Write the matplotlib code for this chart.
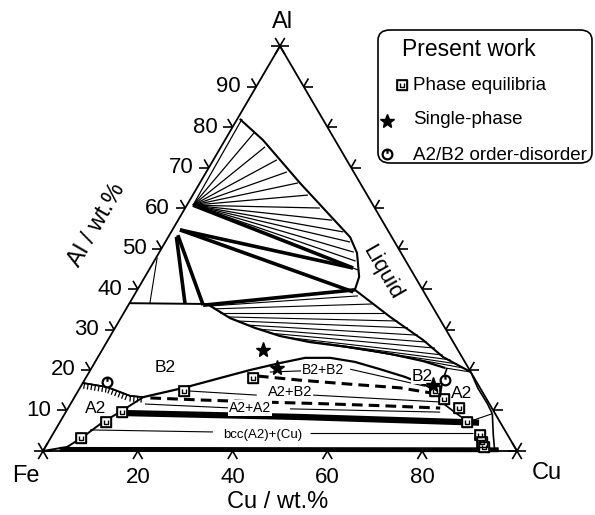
import numpy as np
import matplotlib.pyplot as plt
import matplotlib.patheffects as pe
from matplotlib.path import Path
from matplotlib.patches import FancyBboxPatch

plt.rcParams['font.family'] = ['Liberation Sans', 'DejaVu Sans']

S3 = np.sqrt(3) / 2


def tern(cu, al):
    cu = np.asarray(cu, float)
    al = np.asarray(al, float)
    return cu + al / 2, al * S3


# ---- data, all in wt.% (Cu, Al) ----
# liquidus (boundary of the liquid field)
liq_cu = [0.5, 8.0, 21.1, 38.4, 41.8, 45.2, 45.9, 56.7, 66.5, 72.8, 80.5]
liq_al = [82.0, 76.8, 66.2, 52.8, 48.9, 43.0, 39.8, 33.1, 27.4, 23.2, 19.5]

# tie-line fan from the Al-rich compound
fan_cu0, fan_al0 = 1.3, 60.7
fan_cu = [1.0, 5.3, 9.3, 13.4, 17.0, 20.7, 24.3, 28.4, 32.5, 36.3, 39.0, 41.0, 42.5, 44.1]
fan_al = [82.0, 78.8, 75.1, 71.9, 68.9, 66.2, 63.2, 60.0, 57.0, 54.1, 51.6, 49.1, 46.9, 44.7]

# thick three-phase lines
thk_cu0 = [1.3, 1.6, 1.6, 1.7, 1.8, 15.8]
thk_al0 = [60.7, 54.6, 54.6, 52.9, 53.3, 36.0]
thk_cu1 = [42.8, 42.8, 45.8, 11.7, 15.8, 45.9]
thk_al1 = [45.2, 45.2, 39.3, 36.5, 36.0, 39.8]

# B2 field upper boundary (curve A) and its top line
a_cu = [16.5, 23.1, 29.5, 35.8, 42.8, 51.3, 61.2, 69.1, 74.6]
a_al = [36.3, 32.8, 30.4, 28.4, 26.9, 25.7, 24.0, 22.2, 20.5]
top_cu = [0.0, 16.5]
top_al = [36.5, 36.3]

# B2 field lower boundary (curve B)
b_cu = [14.5, 21.9, 28.3, 33.7, 39.1, 43.8, 49.1, 54.8, 61.0, 67.2, 72.5, 75.8]
b_al = [13.3, 15.6, 18.0, 20.0, 21.7, 23.0, 23.0, 22.0, 20.2, 18.3, 16.3, 14.6]

# A2 field boundary at the Fe corner (curve C)
c_cu = [0.0, 4.6, 6.7, 9.1, 11.4, 14.5]
c_al = [0.0, 1.0, 3.5, 7.2, 9.6, 13.3]

# A2/B2 order-disorder line
od_cu = [0.0, 5.6, 11.6, 14.5]
od_al = [16.8, 15.8, 13.6, 13.3]

# dashed lines
dsh1_cu = [36.1, 45.4, 56.5, 67.5, 74.9]
dsh1_al = [18.5, 17.5, 16.5, 15.6, 14.3]
dsh2_cu = [16.1, 26.8, 39.8, 52.5, 65.5, 78.5]
dsh2_al = [13.1, 12.6, 12.1, 11.7, 11.2, 10.6]

# Cu-rich side
ra_cu = [75.0, 75.6, 76.9, 79.1, 83.2, 86.1]
ra_al = [20.5, 17.5, 13.8, 11.4, 8.9, 7.2]
rb_cu = [80.5, 84.0, 87.8, 90.2]
rb_al = [19.5, 15.5, 11.8, 9.2]
rc_cu = [90.2, 93.0, 95.3]
rc_al = [9.2, 4.0, 0.0]

# thick bands in the bcc + (Cu) field
band1_cu = [11.1, 50.0, 88.5]
band1_al = [9.4, 8.4, 7.0]
band2_cu = [3.3, 96.0]
band2_al = [0.4, 0.3]

# thin tie lines
tie_cu0 = [17.3, 18.5, 20.3, 22.5, 24.9, 27.4, 30.3, 33.3, 37.0, 41.7, 47.5, 54.3,
           74.6, 86.1, 7.3, 54.1, 15.7, 46.9, 23.6, 50.1, 38.1, 54.7, 0.2]
tie_al0 = [35.8, 35.1, 34.1, 33.1, 32.1, 31.1, 30.1, 29.1, 28.1, 27.2, 26.2, 25.2,
           20.5, 7.2, 5.2, 4.4, 11.6, 10.4, 14.8, 13.8, 19.5, 20.2, 47.8]
tie_cu1 = [47.3, 51.3, 55.1, 58.7, 61.8, 64.8, 67.5, 70.0, 72.5, 74.7, 76.6, 78.4,
           80.5, 90.2, 33.5, 88.5, 34.8, 79.0, 38.2, 77.8, 45.0, 72.6, 4.3]
tie_al1 = [38.3, 36.3, 34.1, 32.1, 30.4, 28.6, 26.9, 25.4, 23.7, 22.5, 21.5, 20.5,
           19.5, 9.2, 4.7, 4.4, 10.6, 9.6, 13.8, 12.1, 19.8, 16.0, 36.5]

# experimental points
sq_cu = [6.4, 9.7, 11.9, 22.3, 35.3, 75.3, 78.2, 82.5, 85.9, 90.2, 91.5, 92.5]
sq_al = [3.2, 7.2, 9.6, 14.8, 18.0, 14.8, 12.8, 10.6, 7.2, 4.0, 2.2, 1.0]
star_cu = [33.9, 39.2, 74.2]
star_al = [24.9, 20.5, 16.3]
circ_cu = [5.0, 76.0]
circ_al = [17.0, 17.5]

axis_ticks = [10, 20, 30, 40, 50, 60, 70, 80, 90]
cu_labels = [20, 40, 60, 80]

# ---- figure ----
fig = plt.figure(figsize=(5.95, 5.15), dpi=100)
ax = fig.add_axes([0, 0, 1, 1])
ax.set_xlim(-9.07, 116.46)
ax.set_ylim(-13.69, 96.45)
ax.axis('off')

k = dict(color='black', solid_capstyle='butt')

# triangle
tx, ty = tern([0, 100, 0, 0], [0, 0, 100, 0])
ax.plot(tx, ty, lw=1.3, **k)

# ticks
L = 2.0
d0 = np.array([1.0, 0.0])
d60 = np.array([0.5, S3])
d120 = np.array([-0.5, S3])
for v in axis_ticks:
    p = np.array(tern(0, v))
    for d in (-d0, d120):
        ax.plot([p[0], p[0] + L * d[0]], [p[1], p[1] + L * d[1]], lw=1.2, **k)
    ax.text(p[0] - 3.2, p[1], str(v), ha='right', va='center', fontsize=16)
    p = np.array(tern(100 - v, v))
    for d in (d0, d60):
        ax.plot([p[0], p[0] + L * d[0]], [p[1], p[1] + L * d[1]], lw=1.2, **k)
for v in cu_labels:
    p = np.array(tern(v, 0))
    for d in (-d60, -d120):
        ax.plot([p[0], p[0] + L * d[0]], [p[1], p[1] + L * d[1]], lw=1.2, **k)
    ax.text(v, -5.6, str(v), ha='center', va='center', fontsize=16)
for cu, al in [(0, 0), (100, 0), (0, 100)]:
    p = np.array(tern(cu, al))
    for d in (d0, d60, d120):
        ax.plot([p[0] - L * d[0], p[0] + L * d[0]], [p[1] - L * d[1], p[1] + L * d[1]], lw=1.2, **k)

# fan
ox, oy = tern(fan_cu0, fan_al0)
for cu, al in zip(fan_cu, fan_al):
    ex, ey = tern(cu, al)
    ax.plot([ox, ex], [oy, ey], lw=0.9, **k)

# thin tie lines
for c0, a0, c1, a1 in zip(tie_cu0, tie_al0, tie_cu1, tie_al1):
    x0, y0 = tern(c0, a0)
    x1, y1 = tern(c1, a1)
    ax.plot([x0, x1], [y0, y1], lw=0.8, **k)

# thick lines
for c0, a0, c1, a1 in zip(thk_cu0, thk_al0, thk_cu1, thk_al1):
    x0, y0 = tern(c0, a0)
    x1, y1 = tern(c1, a1)
    ax.plot([x0, x1], [y0, y1], lw=2.6, **k)

# boundaries
for cu, al, w in [(liq_cu, liq_al, 1.5), (a_cu, a_al, 1.6), (top_cu, top_al, 1.4),
                  (b_cu, b_al, 1.6), (c_cu, c_al, 1.4), (ra_cu, ra_al, 1.2),
                  (rb_cu, rb_al, 1.2), (rc_cu, rc_al, 1.2)]:
    ax.plot(*tern(cu, al), lw=w, **k)

ax.plot(*tern(od_cu, od_al), lw=1.2, color='black',
        path_effects=[pe.withTickedStroke(angle=-90, spacing=2.6, length=1.4, linewidth=0.9), pe.Normal()])

ax.plot(*tern(dsh1_cu, dsh1_al), lw=2.2, color='black', dashes=(3.5, 2.0))
ax.plot(*tern(dsh2_cu, dsh2_al), lw=2.2, color='black', dashes=(3.5, 2.0))

ax.plot(*tern(band1_cu, band1_al), lw=4.5, **k)
ax.plot(*tern(band2_cu, band2_al), lw=3.5, **k)

# markers
sq_path = Path.make_compound_path(
    Path([[-1, -1], [1, -1], [1, 1], [-1, 1], [-1, -1]], closed=True),
    Path([[-0.45, 0.55], [-0.45, -0.45], [0.45, -0.45], [0.45, 0.55]]))
circ_path = Path.make_compound_path(Path.unit_circle(), Path([[0, 0.15], [0, 1.0]]))

sx, sy = tern(sq_cu, sq_al)
ax.plot(sx, sy, 's', ms=6.5, mfc='white', mec='black', mew=1.2, zorder=5)
ax.plot(sx, sy, ls='none', marker=sq_path, ms=6.5, mfc='none', mec='black', mew=1.0, zorder=6)
cx, cy = tern(circ_cu, circ_al)
ax.plot(cx, cy, 'o', ms=7, mfc='white', mec='white', zorder=5)
ax.plot(cx, cy, ls='none', marker=circ_path, ms=7, mfc='none', mec='black', mew=1.6, zorder=6)
ax.plot(*tern(star_cu, star_al), '*', ms=11, color='black', zorder=6)

# field labels
for s, cu, al, fs in [('B2', 15.4, 20.7, 12.5), ('A2', 5.7, 10.6, 12.5), ('B2+B2', 49.1, 20.0, 10),
                      ('A2+B2', 44.8, 14.6, 10.5), ('A2+A2', 38.4, 10.6, 10),
                      ('bcc(A2)+(Cu)', 44.4, 4.0, 9.5), ('B2', 70.7, 18.5, 12.5), ('A2', 81.2, 14.3, 12.5)]:
    x, y = tern(cu, al)
    ax.text(x, y, s, ha='center', va='center', fontsize=fs,
            bbox=dict(boxstyle='square,pad=0.05', fc='white', ec='none'), zorder=4)
x, y = tern(49.4, 44.2)
ax.text(x, y, 'Liquid', rotation=-60, ha='center', va='center', fontsize=16)

# axis labels
ax.text(-3.6, -5.3, 'Fe', ha='center', va='center', fontsize=17)
ax.text(106.3, -4.7, 'Cu', ha='center', va='center', fontsize=17)
ax.text(50.6, 91.7, 'Al', ha='center', va='center', fontsize=17)
ax.text(49.6, -10.9, 'Cu / wt.%', ha='center', va='center', fontsize=17)
ax.text(11.4, 48.3, 'Al / wt.%', ha='center', va='center', fontsize=17, rotation=60)

# legend box
ft = fig.transFigure
ax.add_patch(FancyBboxPatch((378 / 595, 1 - 163 / 515), (592 - 378) / 595, (163 - 30) / 515,
                            boxstyle='round,pad=0,rounding_size=0.02', fc='white', ec='black',
                            lw=1.2, transform=ft, clip_on=False, zorder=7))
ax.text(469 / 595, 1 - 50 / 515, 'Present work', ha='center', va='center', fontsize=16.5,
        transform=ft, zorder=9)
for s, py in [('Phase equilibria', 85), ('Single-phase', 120), ('A2/B2 order-disorder', 155)]:
    ax.text(413 / 595, 1 - py / 515, s, ha='left', va='center', fontsize=13.5, transform=ft, zorder=9)
ax.plot([402 / 595], [1 - 85 / 515], 's', ms=6.5, mfc='white', mec='black', mew=1.2,
        transform=ft, clip_on=False, zorder=9)
ax.plot([402 / 595], [1 - 85 / 515], ls='none', marker=sq_path, ms=6.5, mfc='none', mec='black',
        mew=1.0, transform=ft, clip_on=False, zorder=10)
ax.plot([387 / 595], [1 - 121 / 515], '*', ms=10, color='black', transform=ft, clip_on=False, zorder=9)
ax.plot([387 / 595], [1 - 154 / 515], ls='none', marker=circ_path, ms=7, mfc='none', mec='black',
        mew=1.6, transform=ft, clip_on=False, zorder=9)

fig.savefig('out.png', dpi=100)
